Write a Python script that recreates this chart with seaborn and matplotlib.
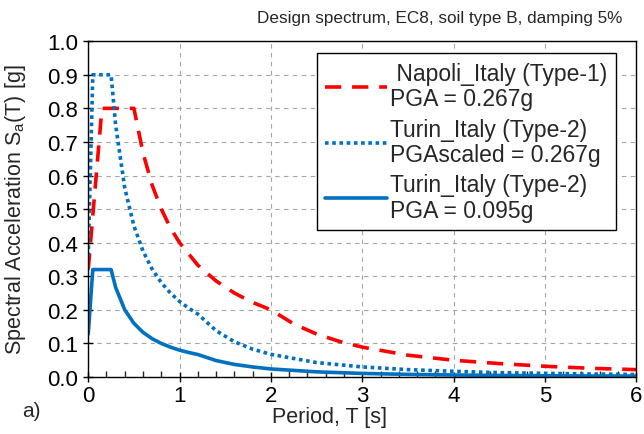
import matplotlib
matplotlib.use('Agg')
import matplotlib.pyplot as plt
import seaborn as sns
from matplotlib.ticker import MultipleLocator, FormatStrFormatter

# --- data ---
t_napoli = [0.0, 0.15, 0.5, 0.6, 0.7, 0.8, 0.9, 1.0, 1.2, 1.4, 1.6, 1.8, 2.0,
            2.25, 2.5, 2.75, 3.0, 3.5, 4.0, 4.5, 5.0, 5.5, 6.0]
sa_napoli = [0.32, 0.80, 0.80, 0.667, 0.571, 0.50, 0.444, 0.40, 0.333, 0.286, 0.25, 0.222, 0.20,
             0.158, 0.128, 0.106, 0.089, 0.065, 0.05, 0.040, 0.032, 0.026, 0.022]

t_turin = [0.0, 0.05, 0.25, 0.3, 0.4, 0.5, 0.6, 0.7, 0.8, 0.9, 1.0, 1.1, 1.2,
           1.4, 1.6, 1.8, 2.0, 2.5, 3.0, 3.5, 4.0, 4.5, 5.0, 5.5, 6.0]
sa_turin_scaled = [0.36, 0.90, 0.90, 0.75, 0.5625, 0.45, 0.375, 0.321, 0.281, 0.25, 0.225, 0.205, 0.1875,
                   0.138, 0.105, 0.083, 0.0675, 0.043, 0.030, 0.022, 0.017, 0.013, 0.011, 0.009, 0.0075]
sa_turin = [0.128, 0.32, 0.32, 0.267, 0.20, 0.16, 0.133, 0.114, 0.10, 0.089, 0.08, 0.073, 0.067,
            0.049, 0.0375, 0.030, 0.024, 0.0154, 0.0107, 0.0078, 0.006, 0.0047, 0.0038, 0.0032, 0.0027]

labels = [' Napoli_Italy (Type-1)\nPGA = 0.267g',
          'Turin_Italy (Type-2)\nPGAscaled = 0.267g',
          'Turin_Italy (Type-2)\nPGA = 0.095g']

red = '#FF0000'
blue = '#0070C0'

sns.set_theme(style='ticks')
plt.rcParams['font.family'] = ['Liberation Sans', 'DejaVu Sans']
plt.rcParams['mathtext.default'] = 'regular'
plt.rcParams['font.size'] = 15

fig = plt.figure(figsize=(6.44, 4.35), dpi=100)
ax = fig.add_axes([0.137, 0.131, 0.851, 0.772])

sns.lineplot(x=t_napoli, y=sa_napoli, ax=ax, color=red, lw=2.6, label=labels[0])
ax.lines[-1].set_dashes((4.5, 3.0))
sns.lineplot(x=t_turin, y=sa_turin_scaled, ax=ax, color=blue, lw=2.6, label=labels[1])
ax.lines[-1].set_dashes((1, 1))
sns.lineplot(x=t_turin, y=sa_turin, ax=ax, color=blue, lw=2.6, label=labels[2])

ax.set_xlim(0, 6)
ax.set_ylim(0, 1.0)
ax.xaxis.set_major_locator(MultipleLocator(1))
ax.xaxis.set_minor_locator(MultipleLocator(0.2))
ax.yaxis.set_major_locator(MultipleLocator(0.1))
ax.yaxis.set_major_formatter(FormatStrFormatter('%.1f'))
ax.tick_params(axis='both', which='major', direction='inout', length=7, width=1,
               labelsize=16, colors='black')
ax.tick_params(axis='x', which='minor', direction='in', length=4, width=1)
ax.tick_params(axis='x', which='major', pad=2)
ax.tick_params(axis='y', which='major', pad=4)

ax.grid(True, which='major', color='#A6A6A6', linestyle=(0, (4, 4)), linewidth=0.8)
for s in ax.spines.values():
    s.set_color('black')
    s.set_linewidth(1)
    s.set_visible(True)

ax.set_xlabel('Period, T [s]', fontsize=15.5)
ax.xaxis.label.set_va('center')
ax.xaxis.set_label_coords(0.44, -0.118)
ax.set_ylabel('Spectral Acceleration S$_a$(T) [g]', fontsize=15.5)
ax.yaxis.label.set_va('center')
ax.yaxis.set_label_coords(-0.133, 0.5)

leg = ax.legend(loc='upper right', bbox_to_anchor=(0.9635, 0.964), fontsize=16.5,
                frameon=True, fancybox=False, framealpha=1, edgecolor='black',
                handlelength=2.7, handletextpad=0.13, labelspacing=0.33,
                borderpad=0.38, borderaxespad=0)
leg.get_frame().set_linewidth(1)
for txt in leg.get_texts():
    txt.set_linespacing(1.12)

fig.text(622 / 644, 1 - 18 / 435, 'Design spectrum, EC8, soil type B, damping 5%',
         ha='right', va='center', fontsize=12.3)
fig.text(0.035, 0.055, 'a)', ha='left', va='center', fontsize=15)

fig.savefig('out.png', dpi=100)
